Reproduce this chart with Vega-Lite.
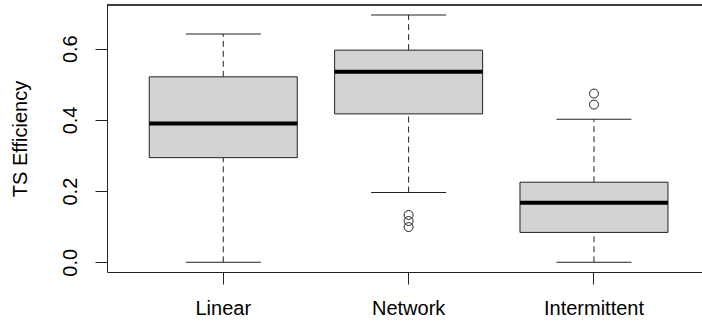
{
  "$schema": "https://vega.github.io/schema/vega-lite/v6.json",
  "width": 595,
  "height": 267,
  "autosize": {"type": "none"},
  "padding": {"left": 107, "top": 5, "right": 0, "bottom": 52},
  "background": "white",
  "config": {"view": {"stroke": null}, "font": "Liberation Sans"},
  "datasets": {
    "stats": [
      {"group": "Linear", "lo": 0.0, "q1": 0.294, "med": 0.39, "q3": 0.521, "hi": 0.641},
      {"group": "Network", "lo": 0.196, "q1": 0.417, "med": 0.535, "q3": 0.596, "hi": 0.695},
      {"group": "Intermittent", "lo": 0.0, "q1": 0.084, "med": 0.167, "q3": 0.225, "hi": 0.402}
    ],
    "outliers": [
      {"group": "Network", "value": 0.133},
      {"group": "Network", "value": 0.116},
      {"group": "Network", "value": 0.099},
      {"group": "Intermittent", "value": 0.474},
      {"group": "Intermittent", "value": 0.443}
    ]
  },
  "data": {"name": "stats"},
  "encoding": {
    "x": {
      "field": "group",
      "type": "nominal",
      "scale": {"domain": ["Linear", "Network", "Intermittent"], "paddingInner": 0.2015, "paddingOuter": 0.2058, "align": 0.554},
      "axis": {
        "title": null,
        "labelAngle": 0,
        "labelFontSize": 20,
        "labelColor": "#000",
        "labelPadding": 14,
        "tickSize": 12,
        "tickColor": "#222",
        "domainColor": "#222",
        "grid": false
      }
    }
  },
  "layer": [
    {
      "mark": {"type": "rule", "color": "#222", "strokeWidth": 1},
      "encoding": {
        "x": null,
        "y": {"datum": 0.7228, "type": "quantitative"}
      }
    },
    {
      "mark": {"type": "rule", "color": "#222", "strokeWidth": 1, "strokeDash": [6, 4]},
      "encoding": {
        "y": {
          "field": "q3",
          "type": "quantitative",
          "scale": {"domain": [-0.0272, 0.7228], "nice": false, "zero": false},
          "axis": {
            "values": [0, 0.1, 0.2, 0.3, 0.4, 0.5, 0.6, 0.7],
            "labelExpr": "round(datum.value*10) % 2 == 0 ? format(datum.value, '.1f') : ''",
            "labelAngle": 270,
            "labelAlign": "center",
            "labelBaseline": "bottom",
            "labelFontSize": 20,
            "labelColor": "#000",
            "labelPadding": 15,
            "tickSize": 12,
            "tickColor": "#222",
            "domainColor": "#222",
            "grid": false,
            "title": "TS Efficiency",
            "titleFontSize": 20,
            "titleFontWeight": "normal",
            "titleColor": "#000",
            "titlePadding": 30
          }
        },
        "y2": {"field": "hi"}
      }
    },
    {
      "mark": {"type": "rule", "color": "#222", "strokeWidth": 1, "strokeDash": [6, 4]},
      "encoding": {
        "y": {"field": "lo", "type": "quantitative"},
        "y2": {"field": "q1"}
      }
    },
    {
      "mark": {"type": "tick", "color": "#222", "size": 75, "thickness": 1, "orient": "horizontal", "opacity": 1},
      "encoding": {"y": {"field": "hi", "type": "quantitative"}}
    },
    {
      "mark": {"type": "tick", "color": "#222", "size": 75, "thickness": 1, "orient": "horizontal", "opacity": 1},
      "encoding": {"y": {"field": "lo", "type": "quantitative"}}
    },
    {
      "mark": {"type": "bar", "fill": "#d3d3d3", "stroke": "#222", "strokeWidth": 1, "opacity": 1},
      "encoding": {
        "y": {"field": "q1", "type": "quantitative"},
        "y2": {"field": "q3"}
      }
    },
    {
      "mark": {"type": "tick", "color": "#000", "size": 148, "thickness": 4, "orient": "horizontal", "opacity": 1},
      "encoding": {"y": {"field": "med", "type": "quantitative"}}
    },
    {
      "data": {"name": "outliers"},
      "mark": {"type": "point", "shape": "circle", "filled": false, "size": 80, "stroke": "#222", "strokeWidth": 1, "opacity": 1},
      "encoding": {"y": {"field": "value", "type": "quantitative"}}
    }
  ]
}
